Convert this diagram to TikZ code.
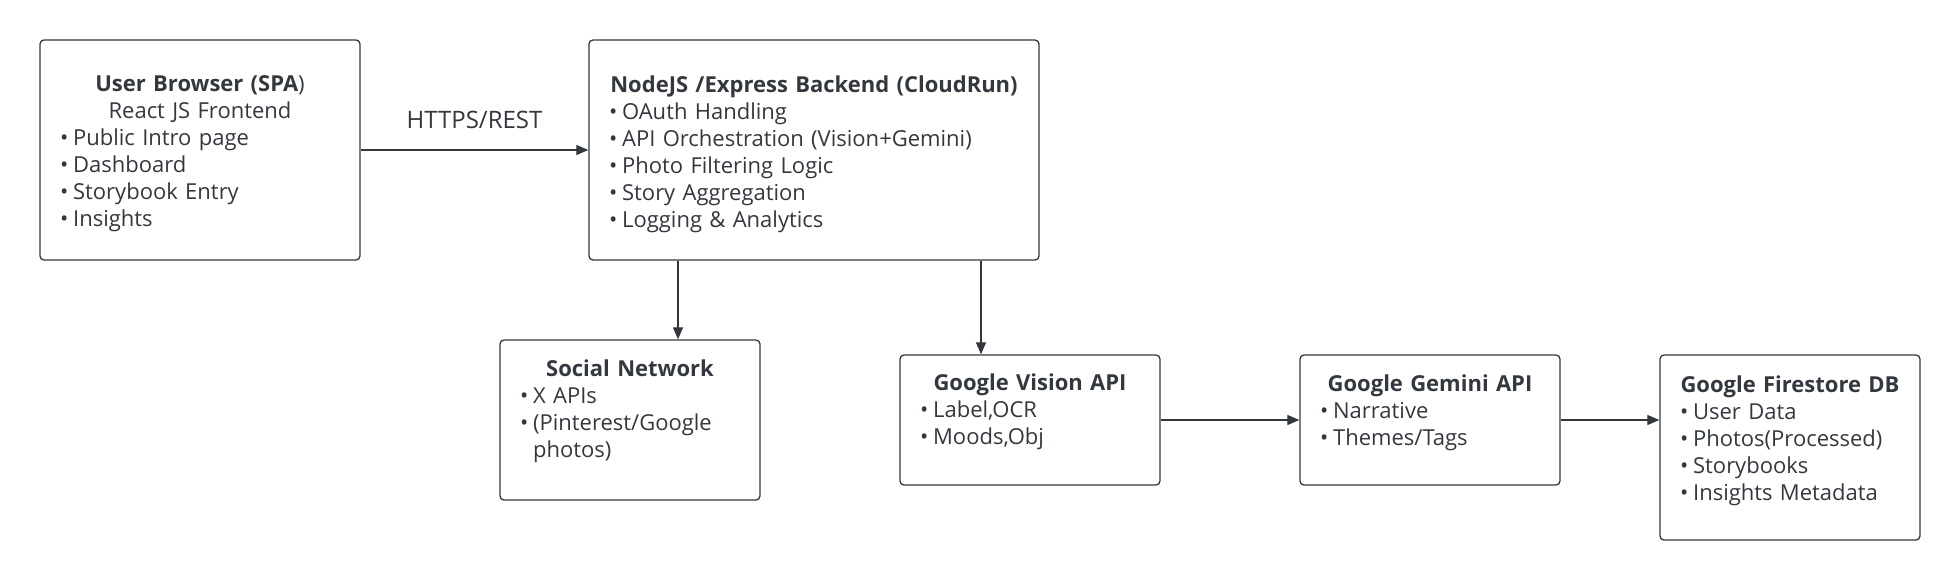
\documentclass[tikz,border=0pt]{standalone}
\usepackage{fontspec}
\setmainfont{Open Sans}
\usepackage{tikz}
\newcommand{\boxtitle}[1]% title text, centred over the box
{{\centering\textbf{#1}\par}
}
\newcommand{\bul}{•\hspace{0.22em}}
\usetikzlibrary{arrows.meta}
\usetikzlibrary{positioning}
\definecolor{ink}{HTML}{33383F}

\begin{document}
\begin{tikzpicture}[x=0.5pt,y=-0.5pt,
	box/.style={draw=ink, line width=0.65pt, rounded corners=2pt, inner sep=0pt},
	txt/.style={text=ink, inner sep=0pt, align=left, anchor=north,
		font=\fontsize{11pt}{13.5pt}\selectfont},
	arr/.style={draw=ink, line width=0.6pt, -{Triangle[length=6pt, width=5pt]}}]
	\useasboundingbox (0,0) rectangle (1960,580);
	% boxes
	\node[box, minimum width=160pt, minimum height=110pt] (browser) at (200,150){};
	\node[box, minimum width=225pt, minimum height=110pt] (backend) at (814,150){};
	\node[box, minimum width=130pt, minimum height=80pt] (social) at (630,420){};
	\node[box, minimum width=130pt, minimum height=65pt] (vision) at (1030,420){};
	\node[box, minimum width=130pt, minimum height=65pt] (gemini) at (1430,420){};
	\node[box, minimum width=130pt, minimum height=92.5pt] (firestore) at (1790,447.5){};
	% texts
	\node[txt, text width=140pt] (browsertxt) at ([yshift=-18pt]browser.north){%
		\boxtitle{User Browser (SPA\mdseries)}
		{\centering React JS Frontend\par}
		\bul Public Intro page\\
		\bul Dashboard\\
		\bul Storybook Entry\\
		\bul Insights};
	\node[txt, text width=205pt] (backendtxt) at ([yshift=-18pt]backend.north){%
		\boxtitle{NodeJS /Express Backend (CloudRun)}
		\bul OAuth Handling\\
		\bul API Orchestration (Vision+Gemini)\\
		\bul Photo Filtering Logic\\
		\bul Story Aggregation\\
		\bul Logging \& Analytics};
	\node[txt, text width=110pt] (socialtxt) at ([yshift=-10pt]social.north){%
		\boxtitle{Social Network}
		\bul X APIs\\
		\bul (Pinterest/Google\\
		\hphantom{\bul}photos)};
	\node[txt, text width=110pt] (visiontxt) at ([yshift=-9.5pt]vision.north){%
		\boxtitle{Google Vision API}
		\bul Label,OCR\\
		\bul Moods,Obj};
	\node[txt, text width=110pt] (geminitxt) at ([yshift=-10pt]gemini.north){%
		\boxtitle{Google Gemini API}
		\bul Narrative\\
		\bul Themes/Tags};
	\node[txt, text width=110pt] (firestoretxt) at ([yshift=-10.5pt]firestore.north){%
		\boxtitle{Google Firestore DB}
		\bul User Data\\
		\bul Photos(Processed)\\
		\bul Storybooks\\
		\bul Insights Metadata};
	% connectors
	\draw[arr] (browser) --node[midway, above=7pt, text=ink, font=\fontsize{12pt}{14pt}\selectfont]{HTTPS/REST} (backend);
	\draw[arr] ([xshift=24pt]social.north |- backend.south) -- ([xshift=24pt]social.north);
	\draw[arr] ([xshift=-24.5pt]vision.north |- backend.south) -- ([xshift=-24.5pt]vision.north);
	\draw[arr] (vision) -- (gemini);
	\draw[arr] (gemini.east) -- (gemini.east -| firestore.west);
\end{tikzpicture}
\end{document}
